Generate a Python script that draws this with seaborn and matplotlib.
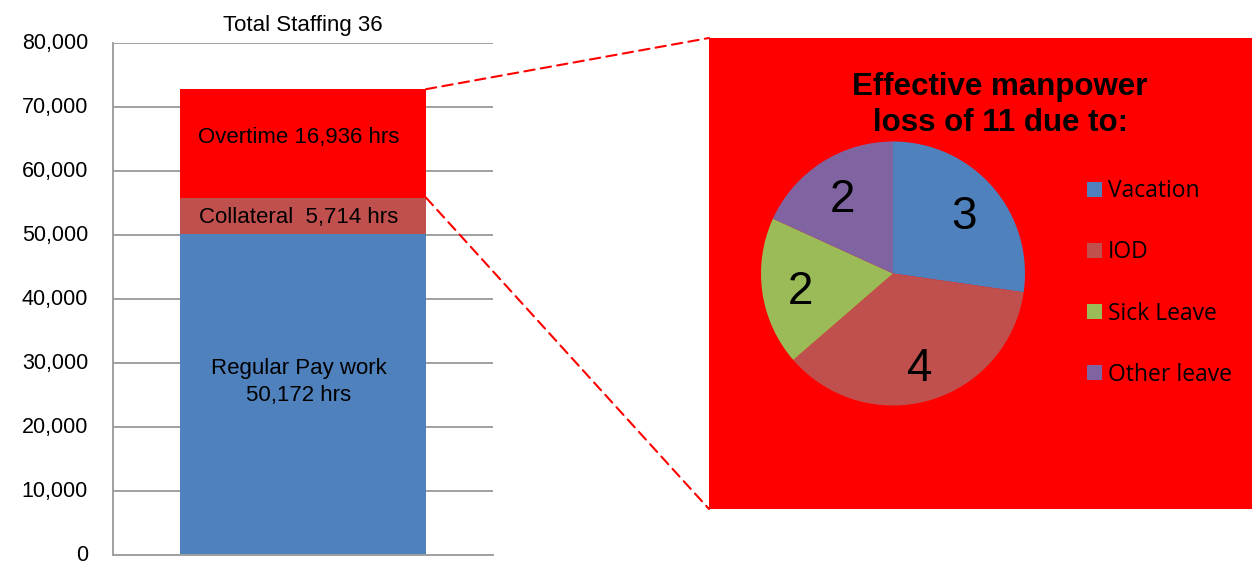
import matplotlib
matplotlib.use("Agg")
import matplotlib.pyplot as plt
from matplotlib.patches import ConnectionPatch
from matplotlib.ticker import FuncFormatter
from matplotlib.transforms import ScaledTranslation
import pandas as pd
import seaborn as sns

# stacked bar: hours
segments = ["Regular Pay work", "Collateral", "Overtime"]
hours = [50172, 5714, 16936]
seg_colors = ["#4F81BD", "#C0504D", "#FF0000"]
seg_labels = ["Regular Pay work\n50,172 hrs", "Collateral  5,714 hrs", "Overtime 16,936 hrs"]
bar_title = "Total Staffing 36"

# pie: manpower loss
loss_cats = ["Vacation", "IOD", "Sick Leave", "Other leave"]
loss_vals = [3, 4, 2, 2]
loss_colors = ["#4F81BD", "#C0504D", "#9BBB59", "#8064A2"]
pie_title = "Effective manpower\nloss of 11 due to:"

sns.set_style("white")
plt.rcParams["font.family"] = ["Liberation Sans", "DejaVu Sans"]
plt.rcParams["text.color"] = "black"
plt.rcParams["axes.titlecolor"] = "black"
plt.rcParams["ytick.color"] = "black"

W, H = 1252, 563
fig = plt.figure(figsize=(W / 100, H / 100), dpi=100)


def px_axes(x0, y0, x1, y1):
    return fig.add_axes([x0 / W, 1 - y1 / H, (x1 - x0) / W, (y1 - y0) / H])


# ---- bar chart ----
ax = px_axes(113, 43.3, 493, 555)
cum = pd.Series(hours).cumsum()
df = pd.DataFrame({"grp": [bar_title] * 3, "top": cum.values, "seg": segments})
# draw tallest first so lower segments sit on top
for i in reversed(range(3)):
    sns.barplot(data=df.iloc[[i]], x="grp", y="top", color=seg_colors[i],
                width=0.647, saturation=1, edgecolor="none", linewidth=0, ax=ax)

ax.set_xlim(-0.5, 0.5)
ax.set_ylim(0, 80000)
ax.set_yticks(range(0, 80001, 10000))
ax.yaxis.set_major_formatter(FuncFormatter(lambda v, p: f"{v:,.0f}"))
ax.tick_params(axis="y", length=0, pad=18, labelsize=15.5, labelcolor="black")
# nudge tick labels up a touch so the "0" stays inside the picture
for lab in ax.get_yticklabels():
    lab.set_transform(lab.get_transform() + ScaledTranslation(0, 2 / 100, fig.dpi_scale_trans))
ax.set_xticks([])
ax.set_xlabel("")
ax.set_ylabel("")
ax.grid(axis="y", color="#a0a0a0", linewidth=1.4)
ax.set_axisbelow(True)
for s in ["top", "right"]:
    ax.spines[s].set_visible(False)
for s in ["left", "bottom"]:
    ax.spines[s].set_color("#a0a0a0")
    ax.spines[s].set_linewidth(1.4)
ax.set_title(bar_title, fontsize=16, pad=9, color="black")

bottoms = [0] + list(cum.values[:-1])
offsets = [9, -1, 4]
for b, h, lab, off in zip(bottoms, hours, seg_labels, offsets):
    ax.annotate(lab, (0, b + h / 2), xytext=(-3, off), textcoords="offset points",
                ha="center", va="center", fontsize=16, color="black", linespacing=1.4)

# ---- red panel with pie ----
panel = px_axes(709, 38, 1252, 509)
panel.set_facecolor("#FF0000")
panel.set_xticks([])
panel.set_yticks([])
for s in panel.spines.values():
    s.set_visible(False)
panel.text(0.536, 0.857, pie_title, transform=panel.transAxes, ha="center", va="center",
           fontsize=22.5, fontweight="bold", linespacing=1.25, color="black")

pax = px_axes(761, 141.5, 1025, 405.5)
wedges, _, autotexts = pax.pie(loss_vals, colors=loss_colors, startangle=90, counterclock=False,
                               autopct=lambda p: f"{round(p * sum(loss_vals) / 100)}",
                               pctdistance=0.71, wedgeprops=dict(linewidth=0))
for t in autotexts:
    t.set_fontsize(33)
    t.set_color("black")
    tx, ty = t.get_position()
    t.set_position((tx, ty - 0.04))
pax.set_xlim(-1, 1)
pax.set_ylim(-1, 1)

panel.legend(wedges, loss_cats, loc="center left", bbox_to_anchor=(1087 / W, 1 - 283 / H),
             bbox_transform=fig.transFigure, frameon=False, borderpad=0, borderaxespad=0,
             handlelength=0.66, handleheight=0.66, handletextpad=0.26, labelspacing=1.62,
             prop={"family": "Open Sans", "size": 16.5}, labelcolor="black")

# ---- dashed connectors ----
top_bar = ax.patches[0]
mid_bar = ax.patches[1]
for bar, corner in [(top_bar, (0, 1)), (mid_bar, (0, 0))]:
    con = ConnectionPatch(xyA=(bar.get_x() + bar.get_width(), bar.get_height()), coordsA=ax.transData,
                          xyB=corner, coordsB=panel.transAxes,
                          color="#FF0000", linestyle=(0, (5, 3)), linewidth=1.5)
    fig.add_artist(con)

fig.savefig("out.png", dpi=100)
